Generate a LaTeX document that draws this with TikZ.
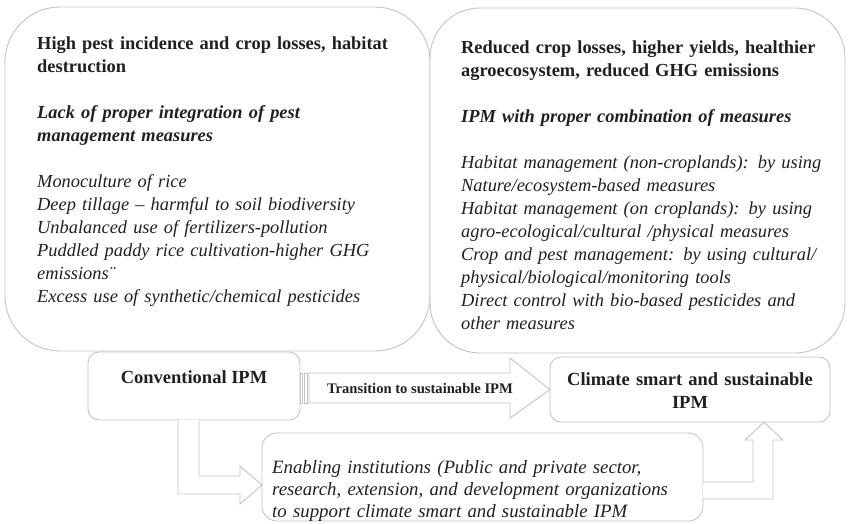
\documentclass[tikz,border=0pt]{standalone}
\usepackage{fontspec}
\setmainfont{Liberation Serif}
\usetikzlibrary{calc}
\definecolor{boxgray}{HTML}{C4C4C4}
\definecolor{txt}{HTML}{231F20}
\begin{document}
\begin{tikzpicture}[x=1pt,y=-1pt,
  box/.style={draw=boxgray, line width=0.9pt, fill=white, inner sep=0pt, outer sep=0pt, anchor=north west},
  bigbox/.style={box, rounded corners=55pt},
  smallbox/.style={box, rounded corners=11pt},
  bodytext/.style={inner sep=0pt, anchor=base west, align=left, text width=410pt, text=txt, font=\fontsize{18.4}{23}\selectfont},
  boldlabel/.style={inner sep=0pt, anchor=base, text=txt, font=\fontsize{18.5}{23}\selectfont\bfseries},
  blockarrow/.style={draw=boxgray, line width=0.9pt, fill=white, line join=miter}
]
\useasboundingbox (0,0) rectangle (848,523);
\fill[white] (0,0) rectangle (848,523);

% big boxes
\node[bigbox, minimum width=425pt, minimum height=344pt] (leftbox) at (5,7) {};
\node[bigbox, minimum width=415pt, minimum height=345pt, rounded corners=50pt] (rightbox) at (430,8) {};

\node[bodytext] (lefttxt) at (37,49) {%
\textbf{High pest incidence and crop losses, habitat}\\
\textbf{destruction}\\[23pt]
\textbf{\textit{Lack of proper integration of pest}}\\
\textbf{\textit{management measures}}\\[23pt]
\textit{Monoculture of rice}\\
\textit{Deep tillage – harmful to soil biodiversity}\\
\textit{Unbalanced use of fertilizers-pollution}\\
\textit{Puddled paddy rice cultivation-higher GHG}\\
\textit{emissions¨}\\
\textit{Excess use of synthetic/chemical pesticides}};

\node[bodytext] (righttxt) at (461,53) {%
\textbf{Reduced crop losses, higher yields, healthier}\\
\textbf{agroecosystem, reduced GHG emissions}\\[23pt]
\textbf{\textit{IPM with proper combination of measures}}\\[23pt]
\textit{Habitat management (non-croplands): by using}\\
\textit{Nature/ecosystem-based measures}\\
\textit{Habitat management (on croplands): by using}\\
\textit{agro-ecological/cultural /physical measures}\\
\textit{Crop and pest management: by using cultural/}\\
\textit{physical/biological/monitoring tools}\\
\textit{Direct control with bio-based pesticides and}\\
\textit{other measures}};

% small boxes
\node[smallbox, minimum width=212pt, minimum height=68pt] (conv) at (88,352) {};
\node[boldlabel] (convtxt) at (194,383) {Conventional IPM};

\node[smallbox, minimum width=280pt, minimum height=65pt] (climate) at (550,357) {};
\node[boldlabel, align=center, text width=280pt] (climtxt) at (690,385) {Climate smart and sustainable\\IPM};

\node[smallbox, minimum width=441pt, minimum height=88pt, rounded corners=15pt] (enab) at (262,433) {};
\node[bodytext, text width=436pt, font=\fontsize{18.8}{22}\selectfont] (enabtxt) at (272,473) {%
\textit{Enabling institutions (Public and private sector,}\\
\textit{research, extension, and development organizations}\\
\textit{to support climate smart and sustainable IPM}};

% transition arrow (striped)
\draw[blockarrow] (conv.east |- 0,373) rectangle ([xshift=2.5pt]conv.east |- 0,403);
\draw[blockarrow] ([xshift=4.5pt]conv.east |- 0,373) rectangle ([xshift=7pt]conv.east |- 0,403);
\draw[blockarrow] ([xshift=9pt]conv.east |- 0,373) -- (510,373) -- (510,358) -- (climate.west) -- (510,418) -- (510,403) -- ([xshift=9pt]conv.east |- 0,403) -- cycle;
\node[inner sep=0pt, anchor=base, text=txt, font=\fontsize{14.6}{16}\selectfont\bfseries] (transtxt) at (420,393) {Transition to sustainable IPM};

% L arrow from conventional IPM to enabling institutions
\filldraw[blockarrow] (conv.south -| 178,0) -- (178,494) -- (240,494) -- (240,504) -- (enab.west |- 0,485) -- (240,466) -- (240,476) -- (199,476) -- (conv.south -| 199,0);

% L arrow from enabling institutions up to climate smart IPM
\filldraw[blockarrow] (enab.east |- 0,482) -- (753,482) -- (753,440) -- (745,440) -- (climate.south -| 764,0) -- (783,440) -- (773,440) -- (773,499) -- (enab.east |- 0,499);
\end{tikzpicture}
\end{document}
